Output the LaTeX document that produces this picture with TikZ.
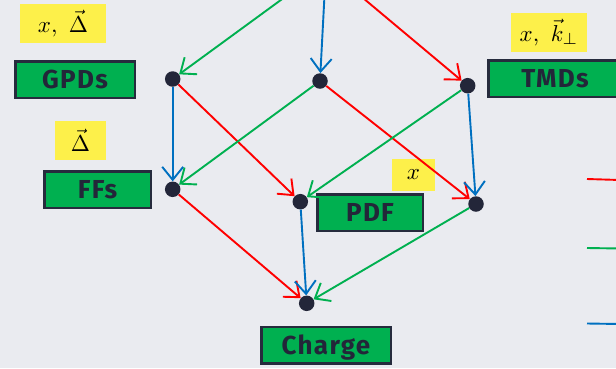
\documentclass[tikz,border=0pt]{standalone}
\usepackage{graphicx}
\usepackage{fontspec}
\setsansfont{Fira Sans}[LetterSpace=5]
\usetikzlibrary{arrows.meta}

\definecolor{bgc}{RGB}{234,235,240}
\definecolor{dotc}{RGB}{35,38,57}
\definecolor{edgec}{RGB}{38,43,61}
\definecolor{boxg}{RGB}{0,176,80}
\definecolor{tagy}{RGB}{253,240,74}
\definecolor{xred}{RGB}{255,0,0}
\definecolor{dgreen}{RGB}{0,176,80}
\definecolor{kblue}{RGB}{0,112,192}

\newcommand{\boxtext}{\sffamily\bfseries\fontsize{26}{30}\selectfont}
\newcommand{\bigmath}[1]{\scalebox{2.3}{$#1$}}

\tikzset{
  dot/.style={circle, fill=dotc, inner sep=0pt, minimum size=15.5pt},
  lbl/.style={draw=edgec, line width=2.5pt, fill=boxg, text=dotc,
    font=\boxtext, minimum height=36.5pt, inner sep=0pt,
    text height=18pt, text depth=0pt},
  tag/.style={fill=tagy, inner sep=0pt, minimum height=39pt},
  link/.style={line width=1.9pt, -{Straight Barb[length=13pt,width=21pt]}},
  legendline/.style={line width=1.9pt},
}

\begin{document}
\begin{tikzpicture}[x=1pt,y=-1pt]
  \fill[bgc] (0,0) rectangle (616,368);
  \useasboundingbox (0,0) rectangle (616,368);
  \clip (0,0) rectangle (616,368);

  % lattice points
  \coordinate (apex) at (326,-33);
  \node[dot] (g)  at (172.7,79)   {};
  \node[dot] (m)  at (320,81)     {};
  \node[dot] (t)  at (467.7,85.7) {};
  \node[dot] (f)  at (172.7,189.3){};
  \node[dot] (p)  at (300.3,201.7){};
  \node[dot] (r)  at (476,204)    {};
  \node[dot] (c)  at (306.7,303.3){};

  % labels
  \node[lbl, minimum width=119.5pt] (gpds)   at (75,79.5)   {GPDs};
  \node[lbl, minimum width=106.5pt] (ffs)    at (97.5,189.5) {FFs};
  \node[lbl, minimum width=133.5pt] (tmds)   at (555,78.5)  {TMDs};
  \node[lbl, minimum width=105.5pt] (pdf)    at (370,212.5) {PDF};
  \node[lbl, minimum width=129.5pt] (charge) at (326,345)   {Charge};

  % variables
  \node[tag, minimum width=86pt] (tg) at (63,23.5)   {\bigmath{x,\ \vec{\Delta}}};
  \node[tag, minimum width=51pt] (tf) at (80.5,140.5) {\bigmath{\vec{\Delta}}};
  \node[tag, minimum width=76pt] (tt) at (549,32.5)  {\bigmath{x,\ \vec{k}_{\perp}}};
  \node[tag, minimum width=43pt, minimum height=32pt] (tp) at (413.5,175) {\bigmath{x}};

  % edges: red = x, green = Delta, blue = k_perp
  \draw[link, dgreen] (apex) -- (g);
  \draw[link, kblue]  (apex) -- (m);
  \draw[link, xred]   (apex) -- (t);

  \draw[link, kblue]  (g) -- (f);
  \draw[link, xred]   (g) -- (p);
  \draw[link, dgreen] (m) -- (f);
  \draw[link, xred]   (m) -- (r);
  \draw[link, dgreen] (t) -- (p);
  \draw[link, kblue]  (t) -- (r);

  \draw[link, xred]   (f) -- (c);
  \draw[link, kblue]  (p) -- (c);
  \draw[link, dgreen] (r) -- (c);

  % legend strokes
  \coordinate (la) at (587,179);  \coordinate (lb) at (620,180);
  \coordinate (lc) at (587,248);  \coordinate (ld) at (620,248.5);
  \coordinate (le) at (587,323.5);\coordinate (lf) at (620,324);
  \draw[legendline, xred]   (la) -- (lb);
  \draw[legendline, dgreen] (lc) -- (ld);
  \draw[legendline, kblue]  (le) -- (lf);
\end{tikzpicture}
\end{document}
